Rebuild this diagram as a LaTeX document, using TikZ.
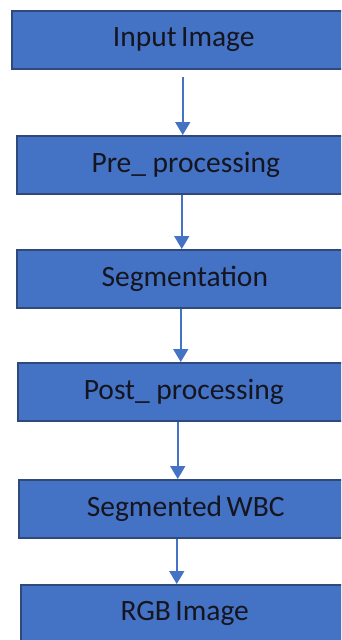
\documentclass[tikz,border=0pt]{standalone}
\usepackage{fontspec}
\setmainfont{Carlito}
\usetikzlibrary{arrows.meta}
\definecolor{boxfill}{HTML}{4472C4}
\definecolor{boxline}{HTML}{2F4A7A}
\definecolor{txt}{HTML}{15151F}
\tikzset{
  stage/.style={draw=boxline, line width=1.5pt, fill=boxfill, anchor=north west,
    minimum height=58pt, inner sep=0pt, text=txt, font=\fontsize{29.5}{31}\selectfont},
  flow/.style={draw=boxfill, line width=1.8pt,
    -{Triangle[length=13pt,width=15pt]}, shorten >=0pt}
}
\begin{document}
\begin{tikzpicture}[x=1pt,y=-1pt]
  \useasboundingbox (0,0) rectangle (341,640);
  \clip (0,0) rectangle (341,640);
  \node[stage, minimum width=344pt] (b1) at (11,10)  {Input\hspace{0.15em}Image};
  \node[stage, minimum width=338pt] (b2) at (16,135) {Pre\_ processing};
  \node[stage, minimum width=336pt] (b3) at (16,249) {Segmentation};
  \node[stage, minimum width=332pt] (b4) at (17,362) {Post\_ processing};
  \node[stage, minimum width=334pt] (b5) at (18,479) {Segmented\hspace{0.15em}WBC};
  \node[stage, minimum width=328pt] (b6) at (20,584) {RGB\hspace{0.15em}Image};
  % connectors between the stages
  \draw[flow] ([xshift=-1pt,yshift=-7pt]b1.south) -- ([xshift=-3pt]b2.north);
  \draw[flow] ([xshift=-4pt]b2.south) -- ([xshift=-3pt]b3.north);
  \draw[flow] ([xshift=-4pt]b3.south) -- ([xshift=-3pt]b4.north);
  \draw[flow] ([xshift=-6pt]b4.south) -- ([xshift=-8pt]b5.north);
  \draw[flow] ([xshift=-9pt]b5.south) -- ([xshift=-8pt]b6.north);
\end{tikzpicture}
\end{document}
